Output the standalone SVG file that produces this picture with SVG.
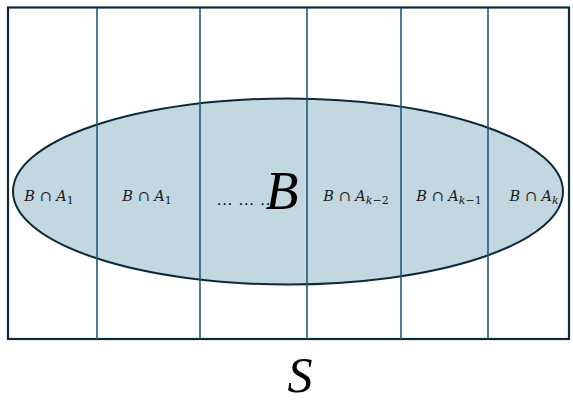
<svg xmlns="http://www.w3.org/2000/svg" width="573" height="402" viewBox="0 0 573 402">
<style>
.lbl{font-family:"DejaVu Serif","Liberation Serif",serif;font-size:14.5px;fill:#1a1a1a}
.it{font-style:italic}
.sub{font-size:11px}
.big{font-family:"Liberation Serif",serif;font-style:italic;fill:#000}
.div{stroke:#1d5b7c;stroke-width:1.6;fill:none}
</style>
<rect width="573" height="402" fill="#fff"/>
<g id="S">
<rect x="8" y="7.5" width="561" height="331.5" fill="none" stroke="#0c2a38" stroke-width="2.2"/>
<text class="big" x="300" y="392" font-size="50" text-anchor="middle">S</text>
</g>
<g id="B">
<ellipse cx="288" cy="191.5" rx="275" ry="93" fill="#c3d7e0" stroke="#0c2a38" stroke-width="2"/>
</g>
<g id="connectors">
<line class="div" x1="97" y1="8" x2="97" y2="339"/>
<line class="div" x1="200" y1="8" x2="200" y2="339"/>
<line class="div" x1="307" y1="8" x2="307" y2="339"/>
<line class="div" x1="401" y1="8" x2="401" y2="339"/>
<line class="div" x1="488" y1="8" x2="488" y2="339"/>
</g>
<g id="labels">
<text class="lbl" x="49" y="201" text-anchor="middle"><tspan class="it">B</tspan> ∩ <tspan class="it">A</tspan><tspan class="sub" dy="3">1</tspan></text>
<text class="lbl" x="147" y="201" text-anchor="middle"><tspan class="it">B</tspan> ∩ <tspan class="it">A</tspan><tspan class="sub" dy="3">1</tspan></text>
<text x="216" y="205" font-family="Liberation Sans, sans-serif" font-size="17" fill="#000">… … …</text>
<text class="lbl" x="356" y="201" text-anchor="middle"><tspan class="it">B</tspan> ∩ <tspan class="it">A</tspan><tspan class="sub it" dy="3">k</tspan><tspan class="sub" >−2</tspan></text>
<text class="lbl" x="449" y="201" text-anchor="middle"><tspan class="it">B</tspan> ∩ <tspan class="it">A</tspan><tspan class="sub it" dy="3">k</tspan><tspan class="sub">−1</tspan></text>
<text class="lbl" x="534" y="201" text-anchor="middle"><tspan class="it">B</tspan> ∩ <tspan class="it">A</tspan><tspan class="sub it" dy="3">k</tspan></text>
<text class="big" x="282" y="209" font-size="54" text-anchor="middle">B</text>
</g>
</svg>
